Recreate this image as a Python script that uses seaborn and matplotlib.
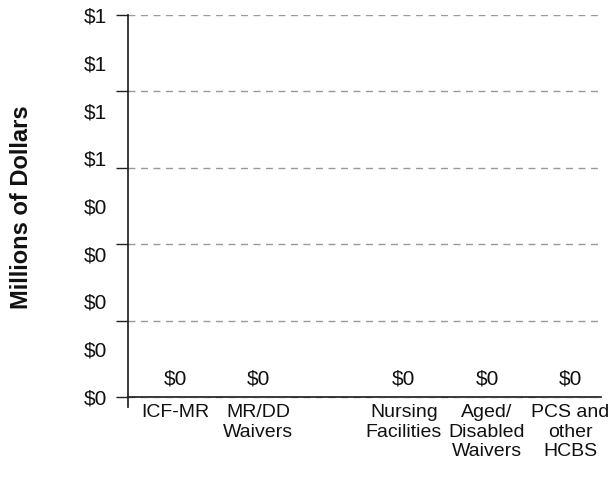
import numpy as np
import pandas as pd
import matplotlib
matplotlib.use("Agg")
import matplotlib.pyplot as plt
import seaborn as sns

# data
programs = ["ICF-MR", "MR/DD\nWaivers", "Nursing\nFacilities", "Aged/\nDisabled\nWaivers", "PCS and\nother\nHCBS"]
spending = [0, 0, 0, 0, 0]
ytick_vals = [0, 0.125, 0.25, 0.375, 0.5, 0.625, 0.75, 0.875, 1.0]

# layout: gap between the MR/DD group and the aged/disabled group
xpos = [0, 1, 2.75, 3.75, 4.75]

sns.set_theme(style="white")
plt.rcParams["font.family"] = ["Liberation Sans", "DejaVu Sans"]

df = pd.DataFrame({"x": xpos, "program": programs, "spending": spending})

fig = plt.figure(figsize=(6.13, 4.78), dpi=100)
ax = fig.add_axes([128 / 613, 1 - 407 / 478, (601 - 128) / 613, (407 - 15) / 478])

sns.barplot(data=df, x="x", y="spending", native_scale=True, color="#4a6fa5", ax=ax)

ylo = -10 / 382
ax.set_ylim(ylo, 1.0)
ax.set_xlim(-47 / 83.2, (601 - 175) / 83.2)

# major ticks: gridlines + tick marks, no labels
ax.yaxis.remove_overlapping_locs = False
ax.set_yticks(np.arange(0, 1.01, 0.2))
ax.set_yticklabels([])
ax.tick_params(axis="y", which="major", length=8.6, width=1, color="#222222", direction="out", left=True)
ax.yaxis.grid(True, which="major", linestyle=(0, (5, 4)), color="#999999", linewidth=1)
ax.set_axisbelow(True)

# minor ticks carry the dollar labels
ax.set_yticks(ytick_vals, minor=True)
ax.set_yticklabels([f"${v:.0f}" for v in ytick_vals], minor=True)
ax.tick_params(axis="y", which="minor", length=0, pad=15, labelsize=15, labelcolor="#111111")

ax.set_xticks(xpos)
ax.set_xticklabels(programs, linespacing=0.95, va="top")
ax.tick_params(axis="x", length=0, pad=5, labelsize=14, labelcolor="#111111")

for side in ["top", "right"]:
    ax.spines[side].set_visible(False)
ax.spines["left"].set_color("#222222")
ax.spines["bottom"].set_color("#222222")
ax.spines["bottom"].set_position(("data", 0))

ax.set_xlabel("")
ax.set_ylabel("Millions of Dollars", fontsize=17, fontweight="bold", color="#111111")
ax.yaxis.set_label_coords(-(128 - 33) / 473, 0.51)

for cont in ax.containers:
    ax.bar_label(cont, labels=[f"${v:.0f}" for v in spending], padding=6, fontsize=15, color="#111111")

fig.savefig("out.png", dpi=100)
